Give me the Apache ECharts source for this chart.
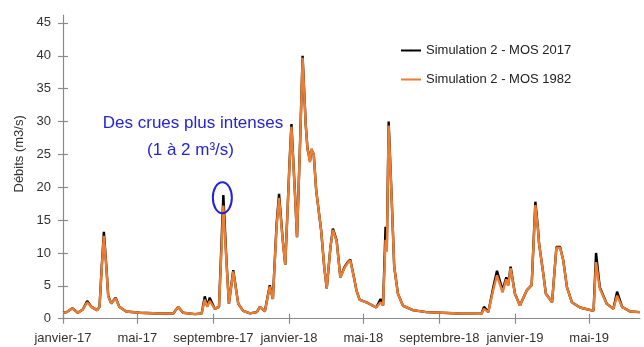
<!DOCTYPE html>
<html><head><meta charset="utf-8">
<script src="https://cdn.jsdelivr.net/npm/echarts@6/dist/echarts.min.js"></script>
<style>html,body{margin:0;padding:0;background:#fff}#c{width:644px;height:347px}</style>
</head><body><div id="c"></div>
<script>
const dates = [
'2017-01-01','2017-01-07','2017-01-16','2017-01-25','2017-02-02','2017-02-09','2017-02-16','2017-02-25','2017-03-01','2017-03-04','2017-03-08','2017-03-12','2017-03-15','2017-03-20','2017-03-27','2017-04-02','2017-04-13','2017-05-05','2017-06-06','2017-06-28',
'2017-07-06','2017-07-14','2017-08-02','2017-08-13','2017-08-18','2017-08-22','2017-08-26','2017-09-03','2017-09-10','2017-09-17','2017-09-22','2017-09-26','2017-10-03','2017-10-11','2017-10-19','2017-10-30','2017-11-10','2017-11-15','2017-11-23','2017-12-01',
'2017-12-06','2017-12-12','2017-12-16','2017-12-22','2017-12-26','2018-01-02','2018-01-05','2018-01-11','2018-01-14','2018-01-19','2018-01-23','2018-01-28','2018-01-31','2018-02-04','2018-02-06','2018-02-10','2018-02-14','2018-02-22','2018-02-27','2018-03-03',
'2018-03-09','2018-03-13','2018-03-19','2018-03-25','2018-04-01','2018-04-06','2018-04-10','2018-04-17','2018-04-20','2018-04-25','2018-05-06','2018-05-22','2018-05-29','2018-06-02','2018-06-06','2018-06-08','2018-06-11','2018-06-16','2018-06-20','2018-06-26',
'2018-07-04','2018-07-20','2018-08-11','2018-10-03','2018-11-08','2018-11-12','2018-11-19','2018-11-27','2018-12-03','2018-12-12','2018-12-18','2018-12-21','2018-12-25','2019-01-01','2019-01-09','2019-01-20','2019-01-28','2019-02-03','2019-02-07','2019-02-09',
'2019-02-11','2019-02-15','2019-02-20','2019-03-02','2019-03-04','2019-03-09','2019-03-15','2019-03-20','2019-03-26','2019-04-03','2019-04-16','2019-05-08','2019-05-12','2019-05-18','2019-05-29','2019-06-09','2019-06-15','2019-06-23','2019-07-06','2019-07-22'
];
const mos2017 = [
0.9,1.0,1.6,0.9,1.4,2.7,1.8,1.3,1.8,7.0,13.2,8.0,3.5,2.3,3.2,1.8,1.1,0.9,0.8,0.8,
1.8,0.9,0.7,0.8,3.4,1.9,3.2,1.5,1.8,18.8,8.9,2.3,7.4,2.3,1.2,0.8,1.0,1.8,1.1,5.1,
3.0,14.4,19.0,11.9,8.2,24.0,29.6,18.5,12.4,27.0,40.0,29.6,25.8,24.0,25.8,25.0,19.5,13.4,7.8,4.6,
10.9,13.7,11.9,6.3,7.9,8.6,9.0,5.8,4.3,2.9,2.5,1.7,3.0,2.0,14.0,10.5,30.0,18.0,7.9,3.8,
2.0,1.3,1.0,0.8,0.75,1.8,1.0,4.8,7.3,4.3,6.3,5.1,7.9,3.8,2.0,4.3,5.1,17.8,13.9,11.4,
11.6,7.4,3.8,2.5,2.4,10.9,10.9,8.9,4.8,2.5,1.7,1.2,10.0,4.8,2.3,1.5,4.1,1.8,1.1,1.0
];
const mos1982 = [
0.9,1.0,1.6,0.9,1.4,2.5,1.8,1.3,1.8,6.8,12.6,7.8,3.4,2.3,3.1,1.8,1.1,0.9,0.8,0.8,
1.8,0.9,0.7,0.8,2.9,1.8,2.7,1.5,1.8,17.2,8.6,2.3,7.2,2.3,1.2,0.8,1.0,1.8,1.1,4.9,
3.0,14.0,18.4,11.8,8.2,23.8,29.2,18.3,12.4,26.8,39.7,29.5,25.8,23.8,25.8,25.0,19.5,13.4,7.8,4.6,
10.9,13.5,11.8,6.3,7.8,8.5,8.9,5.8,4.3,2.9,2.5,1.7,2.5,2.0,12.0,10.2,29.4,18.0,7.9,3.8,
2.0,1.3,1.0,0.8,0.75,1.5,1.0,4.4,6.6,4.0,6.0,5.0,7.7,3.8,2.0,4.3,5.1,17.3,13.7,11.4,
11.6,7.4,3.8,2.5,2.4,10.8,10.8,8.9,4.8,2.5,1.7,1.2,8.6,4.6,2.3,1.5,3.5,1.8,1.1,1.0
];
const tickDates = ['2017-01-01','2017-05-01','2017-09-01','2018-01-01','2018-05-01','2018-09-01','2019-01-01','2019-05-01'];
const tickLabels = ['janvier-17','mai-17','septembre-17','janvier-18','mai-18','septembre-18','janvier-19','mai-19'];
const yTicks = [0,5,10,15,20,25,30,35,40,45];
const seriesNames = ['Simulation 2 - MOS 2017','Simulation 2 - MOS 1982'];
const startDate = '2017-01-01';
const endDate = '2019-07-22';
const highlightDate = '2017-09-17';
const highlightIndex = dates.indexOf(highlightDate);

const FONT = '"Liberation Sans", Arial, sans-serif';
const GREY = '#8a8a8a';
const BLUE = '#2424d6';
// day number since the start date (UTC, no DST issues)
function dayNum(s){ const p = s.split('-').map(Number); const q = startDate.split('-').map(Number);
  return Math.round((Date.UTC(p[0], p[1]-1, p[2]) - Date.UTC(q[0], q[1]-1, q[2])) / 86400000); }
const tickDays = tickDates.map(dayNum);
const xMax = dayNum(endDate);
const pairs = arr => dates.map((d,i) => [dayNum(d), arr[i]]);

const chart = echarts.init(document.getElementById('c'));
chart.setOption({
  animation: false,
  backgroundColor: '#fff',
  grid: {left: 63, right: 4, top: 15, bottom: 28.3, containLabel: false},
  legend: {
    orient: 'vertical', left: 395, top: 39, itemGap: 16, itemWidth: 20, itemHeight: 2,
    textStyle: {fontFamily: FONT, fontSize: 13, color: '#222'},
    data: seriesNames
  },
  xAxis: [{
    type: 'value', min: 0, max: xMax,
    axisLine: {show: true, lineStyle: {color: GREY, width: 1.2}},
    axisTick: {show: true, length: 5, customValues: tickDays, lineStyle: {color: GREY, width: 1.2}},
    axisLabel: {customValues: tickDays, margin: 13, color: '#333', fontFamily: FONT, fontSize: 13,
      formatter: v => { const i = tickDays.indexOf(v); return i >= 0 ? tickLabels[i] : ''; }},
    splitLine: {show: false}
  }, {
    type: 'value', min: 0, max: xMax, position: 'bottom',
    axisLine: {show: false},
    axisTick: {show: true, inside: true, length: 5, customValues: tickDays, lineStyle: {color: GREY, width: 1.2}},
    axisLabel: {show: false}, splitLine: {show: false}
  }],
  yAxis: [{
    type: 'value', min: 0, max: 46.2,
    name: 'Débits (m3/s)', nameLocation: 'middle', nameRotate: 90, nameGap: 29,
    nameTextStyle: {fontFamily: FONT, fontSize: 13, color: '#333', padding: [0,0,0,26]},
    axisLine: {show: true, lineStyle: {color: GREY, width: 1.2}},
    axisTick: {show: true, length: 5, customValues: yTicks, lineStyle: {color: GREY, width: 1.2}},
    axisLabel: {customValues: yTicks, margin: 12, color: '#333', fontFamily: FONT, fontSize: 13},
    splitLine: {show: false}
  }, {
    type: 'value', min: 0, max: 46.2, position: 'left',
    axisLine: {show: false},
    axisTick: {show: true, inside: true, length: 5, customValues: yTicks, lineStyle: {color: GREY, width: 1.2}},
    axisLabel: {show: false}, splitLine: {show: false}
  }],
  series: [{
    name: seriesNames[0], type: 'line', symbol: 'none', data: pairs(mos2017),
    lineStyle: {color: '#000', width: 2.4}, itemStyle: {color: '#000'}
  }, {
    name: seriesNames[1], type: 'line', symbol: 'none', data: pairs(mos1982),
    lineStyle: {color: '#ed7d31', width: 2.4}, itemStyle: {color: '#ed7d31'}
  }]
});

const peak = chart.convertToPixel({xAxisIndex: 0, yAxisIndex: 0}, [dayNum(highlightDate), mos2017[highlightIndex] - 0.4]);
chart.setOption({
  graphic: [
    {type: 'ellipse', shape: {cx: peak[0] - 1, cy: peak[1], rx: 9.5, ry: 15.5}, style: {fill: 'none', stroke: BLUE, lineWidth: 2}, z: 100},
    {type: 'text', x: 193, y: 123, style: {text: 'Des crues plus intenses', fill: BLUE, font: '17px ' + FONT, align: 'center', verticalAlign: 'middle'}, z: 100},
    {type: 'text', x: 190.5, y: 150, style: {text: '(1 à 2 m³/s)', fill: BLUE, font: '17px ' + FONT, align: 'center', verticalAlign: 'middle'}, z: 100}
  ]
});
</script></body></html>
